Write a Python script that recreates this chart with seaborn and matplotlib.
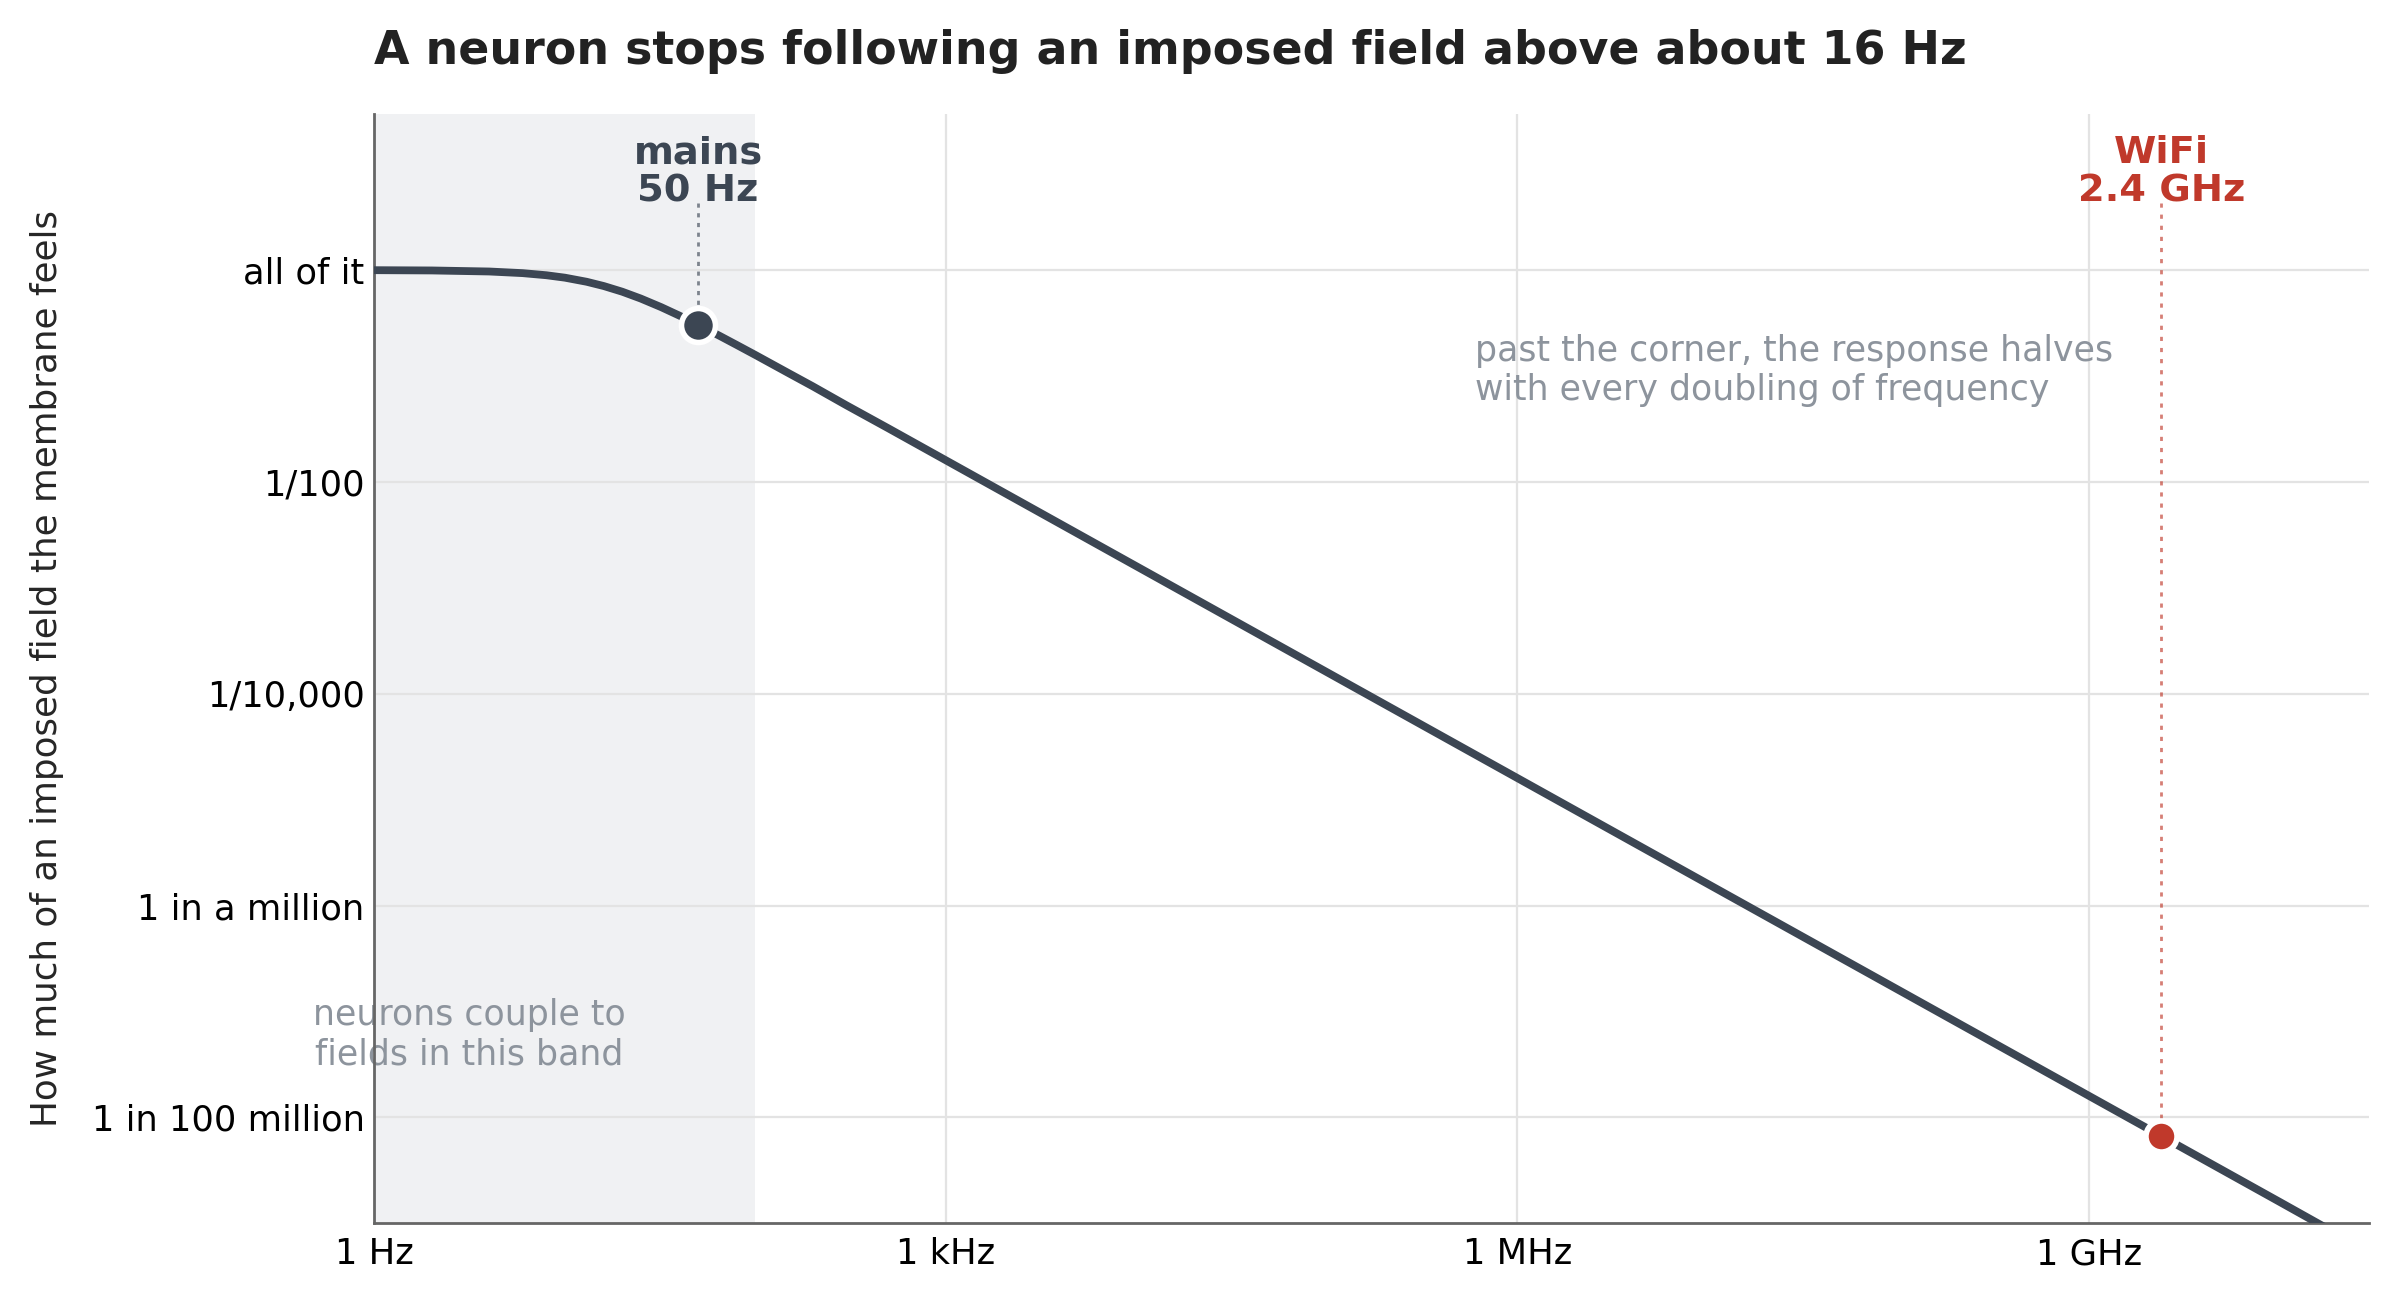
import numpy as np
import pandas as pd
import seaborn as sns
import matplotlib.pyplot as plt

# --- DATA ---
freq_hz = [1, 2, 4, 6, 8, 10, 13, 16, 20, 25, 32, 40, 50, 65, 80, 100, 150, 200,
           300, 500, 1000, 1e4, 1e6, 1e8, 1e10, 3e10]
response = [0.998, 0.992, 0.970, 0.936, 0.894, 0.848, 0.776, 0.707, 0.625, 0.539,
            0.447, 0.371, 0.305, 0.239, 0.196, 0.158, 0.106, 0.080, 0.053, 0.032,
            0.016, 1.6e-3, 1.6e-5, 1.6e-7, 1.6e-9, 5.3e-10]

mains_f, mains_r = 50, 0.305
wifi_f, wifi_r = 2.4e9, 6.7e-9

x_ticks = [1, 1e3, 1e6, 1e9]
x_labels = ["1 Hz", "1 kHz", "1 MHz", "1 GHz"]
y_ticks = [1, 1e-2, 1e-4, 1e-6, 1e-8]
y_labels = ["all of it", "1/100", "1/10,000", "1 in a million", "1 in 100 million"]

df = pd.DataFrame({"freq": freq_hz, "resp": response})

# --- COLOURS ---
dark = "#3c4653"
red = "#c0392b"
grey_txt = "#8d949d"

sns.set_theme(style="white")
plt.rcParams["font.family"] = ["DejaVu Sans"]

fig = plt.figure(figsize=(12, 6.5), dpi=200)
ax = fig.add_axes([0.156, 0.059, 0.831, 0.853])
ax.set_xscale("log")
ax.set_yscale("log")

# band where neurons couple
ax.axvspan(1, 100, color="#f0f1f3", zorder=0, lw=0)

sns.lineplot(data=df, x="freq", y="resp", ax=ax, color=dark, lw=2.8, zorder=3,
             estimator=None, sort=True)

# reference lines to labels
ax.plot([mains_f, mains_f], [4.3, mains_r * 1.3], ls=(0, (1.5, 2)), color="#7d848d",
        lw=1.0, zorder=2)
ax.plot([wifi_f, wifi_f], [4.3, wifi_r * 1.4], ls=(0, (1.5, 2.5)), color=red,
        alpha=0.65, lw=1.0, zorder=2)

sns.scatterplot(x=[mains_f], y=[mains_r], ax=ax, s=150, color=dark,
                edgecolor="white", linewidth=2.0, zorder=5)
sns.scatterplot(x=[wifi_f], y=[wifi_r], ax=ax, s=125, color=red,
                edgecolor="white", linewidth=2.0, zorder=5)

ax.text(mains_f, 3.7, "mains\n50 Hz", ha="center", va="bottom", fontsize=13.8,
        fontweight="bold", color=dark, linespacing=1.1, zorder=4)
ax.text(wifi_f, 3.7, "WiFi\n2.4 GHz", ha="center", va="bottom", fontsize=13.8,
        fontweight="bold", color=red, linespacing=1.1, zorder=4)

ax.text(0.552, 0.802, "past the corner, the response halves\nwith every doubling of frequency",
        transform=ax.transAxes, ha="left", va="top", fontsize=12.5, color=grey_txt,
        linespacing=1.2)
ax.text(10 ** 0.5, 6e-8, "neurons couple to\nfields in this band", ha="center",
        va="center", fontsize=12.5, color=grey_txt, linespacing=1.2, zorder=1)

ax.set_xlim(1, 10 ** 10.47)
ax.set_ylim(1e-9, 10 ** 1.47)
ax.set_xticks(x_ticks)
ax.set_xticklabels(x_labels)
ax.set_yticks(y_ticks)
ax.set_yticklabels(y_labels)
ax.minorticks_off()
ax.tick_params(axis="both", length=0, labelsize=12.7, colors="black")
ax.tick_params(axis="y", pad=3.5)
ax.tick_params(axis="x", pad=5)

ax.grid(True, color="#e3e3e3", lw=0.8)
ax.set_axisbelow(True)
for s in ["top", "right"]:
    ax.spines[s].set_visible(False)
for s in ["left", "bottom"]:
    ax.spines[s].set_color("#666666")
    ax.spines[s].set_linewidth(1.0)

ax.set_xlabel("")
ax.set_ylabel("How much of an imposed field the membrane feels", fontsize=12.9,
              labelpad=10)
ax.set_title("A neuron stops following an imposed field above about 16 Hz",
             loc="left", fontsize=16.5, fontweight="bold", color="#222222", pad=18)

fig.savefig("out.png", dpi=200)
